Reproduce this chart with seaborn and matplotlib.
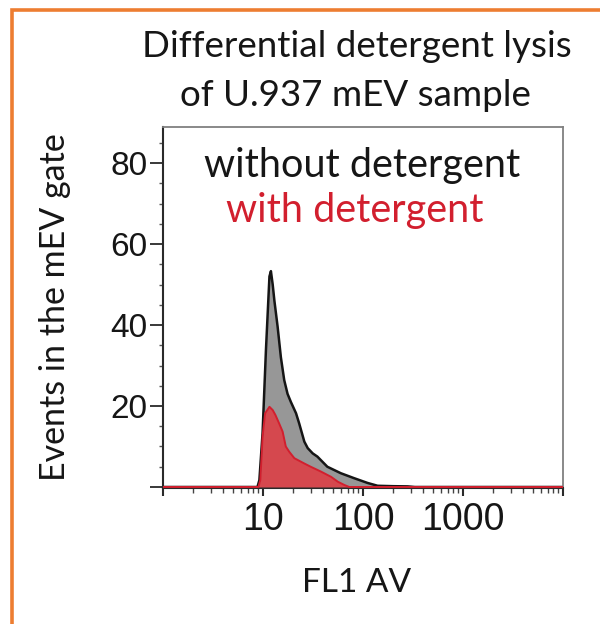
import numpy as np
import pandas as pd
import matplotlib
matplotlib.use("Agg")
import matplotlib.pyplot as plt
from matplotlib.ticker import FixedLocator, FixedFormatter
from matplotlib.patches import Rectangle
import seaborn as sns

# ---- data ----
fl1_without = [1, 8.8, 9.2, 9.9, 10.7, 11.6, 12.0, 12.5, 13.0, 14.0, 15.1, 16.3, 17.6,
               19.0, 21.4, 23.0, 25.9, 28.0, 31.4, 35.0, 44.0, 60.0, 81.0, 111.0, 140.0,
               200.0, 280.0, 330.0, 10000]
events_without = [0, 0, 1.7, 13.3, 33.8, 52.0, 53.3, 50.0, 46.0, 39.6, 32.0, 26.4, 23.0,
                  21.0, 18.2, 15.7, 11.2, 9.6, 8.3, 7.5, 5.0, 3.4, 2.2, 1.0, 0.3,
                  0.2, 0.15, 0, 0]

fl1_with = [1, 9.0, 9.4, 9.9, 10.5, 11.6, 12.5, 13.3, 14.5, 15.7, 16.9, 18.3, 20.6,
            25.9, 30.0, 38.0, 48.0, 56.0, 65.0, 73.0, 10000]
events_with = [0, 0, 1.7, 12.4, 18.2, 19.8, 19.0, 17.8, 15.7, 13.7, 10.0, 8.7, 7.1,
               5.8, 5.0, 3.8, 2.5, 1.3, 0.5, 0, 0]

x_major = [1, 10, 100, 1000, 10000]
x_labels = ["", "10", "100", "1000", ""]
y_major = [0, 20, 40, 60, 80]
y_labels = ["", "20", "40", "60", "80"]

title_lines = ["Differential detergent lysis", "of U.937 mEV sample"]
legend_lines = ["without detergent", "with detergent"]

df_wo = pd.DataFrame({"FL1 AV": fl1_without, "Events": events_without})
df_w = pd.DataFrame({"FL1 AV": fl1_with, "Events": events_with})

sns.set_style("ticks")
plt.rcParams["font.family"] = ["Lato", "DejaVu Sans"]

W, H = 600, 624
fig = plt.figure(figsize=(W / 100, H / 100), dpi=100)
fig.patch.set_facecolor("white")

def px(x, y):
    return x / W, 1 - y / H

L, R, T, B = 163, 563, 127, 488
ax = fig.add_axes([L / W, 1 - B / H, (R - L) / W, (B - T) / H])

GRAY_FILL = "#979797"
RED_FILL = "#d5484e"
RED_LINE = "#d21f2e"
TXT = "#161616"

ax.fill_between(df_wo["FL1 AV"], df_wo["Events"], 0, color=GRAY_FILL, lw=0, zorder=1)
sns.lineplot(data=df_wo, x="FL1 AV", y="Events", ax=ax, color="#151515", lw=1.8,
             sort=False, estimator=None, zorder=2)
ax.fill_between(df_w["FL1 AV"], df_w["Events"], 0, color=RED_FILL, lw=0, zorder=3)
sns.lineplot(data=df_w, x="FL1 AV", y="Events", ax=ax, color=RED_LINE, lw=1.4,
             sort=False, estimator=None, zorder=4)

ax.set_xscale("log")
ax.set_xlim(1, 10000)
ax.set_ylim(-0.25, 88.9)

ax.xaxis.set_major_locator(FixedLocator(x_major))
ax.xaxis.set_major_formatter(FixedFormatter(x_labels))
minors = [m * 10 ** e for e in range(0, 4) for m in range(2, 10)]
ax.xaxis.set_minor_locator(FixedLocator(minors))
ax.yaxis.set_major_locator(FixedLocator(y_major))
ax.yaxis.set_major_formatter(FixedFormatter(y_labels))
ax.yaxis.set_minor_locator(FixedLocator([5, 10, 15, 25, 30, 35, 45, 50, 55, 65, 70, 75, 85]))

ax.set_xlabel("")
ax.set_ylabel("")

for side in ["left", "bottom"]:
    ax.spines[side].set_color("#2a2a2a")
    ax.spines[side].set_linewidth(1.5)
for side in ["top", "right"]:
    ax.spines[side].set_visible(True)
    ax.spines[side].set_color("#808080")
    ax.spines[side].set_linewidth(1.3)

ax.tick_params(axis="y", which="major", direction="out", length=9.5, width=1.3,
               color="#2a2a2a", pad=1.5, labelsize=24)
ax.tick_params(axis="y", which="minor", direction="out", length=3, width=1.0, color="#555555")
ax.tick_params(axis="x", which="major", direction="out", length=6, width=1.5,
               color="#2a2a2a", pad=4, labelsize=27)
ax.tick_params(axis="x", which="minor", direction="out", length=3.5, width=1.0, color="#444444")
for lab in ax.get_xticklabels() + ax.get_yticklabels():
    lab.set_fontfamily(["Liberation Sans", "DejaVu Sans"])
    lab.set_color(TXT)

# titles and labels
fig.text(*px(357, 57), title_lines[0], ha="center", va="baseline", fontsize=26.5, color=TXT)
fig.text(*px(355, 106), title_lines[1], ha="center", va="baseline", fontsize=26.5, color=TXT)
fig.text(*px(362, 177), legend_lines[0], ha="center", va="baseline", fontsize=28.5, color=TXT)
fig.text(*px(355, 222), legend_lines[1], ha="center", va="baseline", fontsize=28.5, color=RED_LINE)
fig.text(*px(357, 592), "FL1 AV", ha="center", va="baseline", fontsize=24, color=TXT)
fig.text(*px(55, 307), "Events in the mEV gate", ha="center", va="center", rotation=90,
         fontsize=24.5, color=TXT)

# orange frame (top and left edges)
fig.patches.append(Rectangle(px(12, 700), 700 / W, (700 - 9.5) / H, transform=fig.transFigure,
                             fill=False, edgecolor="#ed7d31", lw=2.6, zorder=10))

fig.savefig("out.png", dpi=100, facecolor="white")
